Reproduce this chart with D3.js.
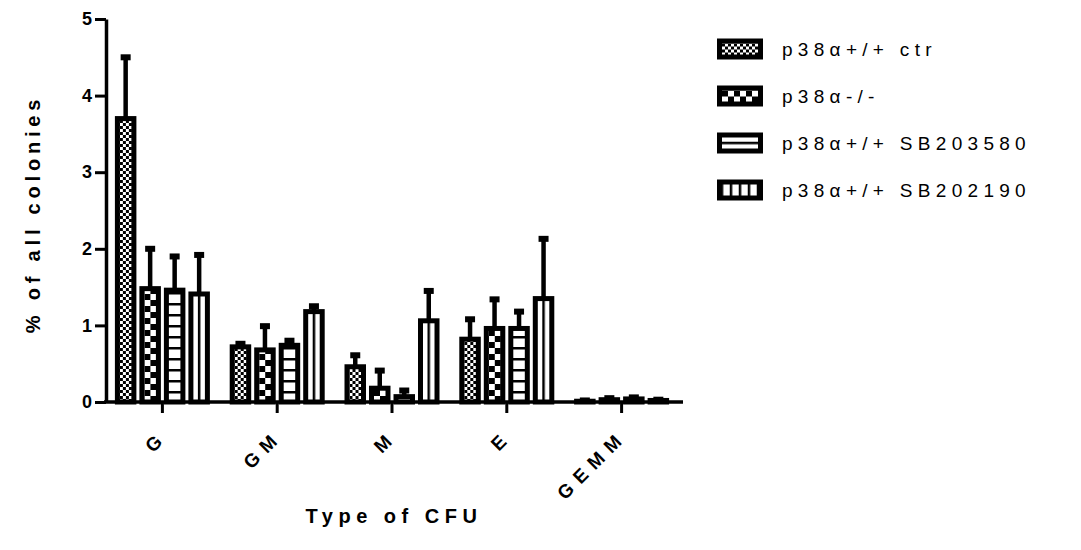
<!DOCTYPE html>
<html>
<head>
<meta charset="utf-8">
<script src="https://cdn.jsdelivr.net/npm/d3@7/dist/d3.min.js"></script>
<style>
  html, body { margin: 0; padding: 0; background: #fff; }
  svg { display: block; font-family: "Liberation Sans", Arial, sans-serif; }
</style>
</head>
<body>
<svg id="chart" width="1081" height="550"></svg>
<script>
// Colony-forming unit types
const categories = ["G", "GM", "M", "E", "GEMM"];
// Treatment groups
const seriesNames = ["p38α+/+ ctr", "p38α-/-", "p38α+/+ SB203580", "p38α+/+ SB202190"];
// Mean % of all colonies and upper error (SEM) per CFU type
const ctrMean   = [3.70, 0.72, 0.46, 0.82, 0.01];
const ctrErr    = [0.80, 0.04, 0.15, 0.26, 0.01];
const koMean    = [1.48, 0.68, 0.18, 0.96, 0.03];
const koErr     = [0.52, 0.31, 0.23, 0.38, 0.02];
const sb580Mean = [1.46, 0.74, 0.07, 0.96, 0.04];
const sb580Err  = [0.44, 0.06, 0.08, 0.22, 0.02];
const sb190Mean = [1.41, 1.18, 1.06, 1.35, 0.02];
const sb190Err  = [0.51, 0.07, 0.39, 0.78, 0.01];
const yTicks = [0, 1, 2, 3, 4, 5];

const means = [ctrMean, koMean, sb580Mean, sb190Mean];
const errs = [ctrErr, koErr, sb580Err, sb190Err];

const FONT = "Liberation Sans, Arial, sans-serif";
const svg = d3.select("#chart");
const defs = svg.append("defs");

const BAR_STROKE = 5;

// Scales
const y = d3.scaleLinear().domain([0, 5]).range([402, 19]);
const x0 = d3.scaleBand().domain(categories).range([105, 679]).padding(0);
const x1 = d3.scaleBand().domain(d3.range(seriesNames.length)).range([-47.5, 47.5])
  .paddingInner(3 / 24.5).paddingOuter(0);

// Fill patterns: fine checker, coarse checker, horizontal lines, vertical lines
function addPattern(id, kind, ox, oy) {
  const specs = [
    { w: 6, h: 6, marks: [[0, 0, 3, 3], [3, 3, 3, 3]] },
    { w: 12, h: 12, marks: [[0, 0, 6, 6], [6, 6, 6, 6]] },
    { w: 10, h: 11, marks: [[0, 0, 10, 2.5]] },
    { w: 9, h: 10, marks: [[0, 0, 2.5, 10]] }
  ];
  const s = specs[kind];
  const p = defs.append("pattern")
    .attr("id", id)
    .attr("patternUnits", "userSpaceOnUse")
    .attr("x", ox).attr("y", oy)
    .attr("width", s.w).attr("height", s.h);
  p.append("rect").attr("width", s.w).attr("height", s.h).attr("fill", "#fff");
  p.selectAll("rect.m").data(s.marks).join("rect").attr("class", "m")
    .attr("x", d => d[0]).attr("y", d => d[1])
    .attr("width", d => d[2]).attr("height", d => d[3])
    .attr("fill", "#000");
}
const barOffsets = [[5, 0], [5, 0], [0, 0], [9.5, 0]];
const legOffsets = [[5, 5], [5, 5], [0, 9.25], [3.75, 0]];
seriesNames.forEach((_, i) => {
  addPattern("pat-bar-" + i, i, barOffsets[i][0], barOffsets[i][1]);
  addPattern("pat-leg-" + i, i, legOffsets[i][0], legOffsets[i][1]);
});

// One record per bar
const bars = [];
categories.forEach((c, ci) => {
  seriesNames.forEach((s, si) => {
    bars.push({ cat: c, s: si, v: means[si][ci], e: errs[si][ci] });
  });
});

const bw = x1.bandwidth();

// Bars
const barG = svg.append("g").selectAll("g").data(bars).join("g")
  .attr("transform", d => `translate(${x0(d.cat) + x0.bandwidth() / 2 + x1(d.s)},${y(0)})`);
barG.append("rect")
  .attr("x", BAR_STROKE / 2)
  .attr("y", d => y(d.v) - y(0))
  .attr("width", bw - BAR_STROKE)
  .attr("height", d => y(0) - y(d.v))
  .attr("fill", d => `url(#pat-bar-${d.s})`)
  .attr("stroke", "#000")
  .attr("stroke-width", BAR_STROKE);

// Error bars (upper only)
barG.append("line")
  .attr("x1", bw / 2).attr("x2", bw / 2)
  .attr("y1", d => y(d.v) - y(0))
  .attr("y2", d => y(d.v + d.e) - y(0))
  .attr("stroke", "#000").attr("stroke-width", 4.5);
barG.append("rect")
  .attr("x", bw / 2 - 5)
  .attr("y", d => y(d.v + d.e) - y(0) - 3)
  .attr("width", 10).attr("height", 6)
  .attr("fill", "#000");

// Y axis
const yAxis = svg.append("g")
  .attr("transform", `translate(${x0.range()[0] + 1},0)`)
  .call(d3.axisLeft(y).tickValues(yTicks).tickFormat(d3.format("d"))
    .tickSize(11).tickSizeOuter(0).tickPadding(3));
yAxis.select(".domain").attr("stroke-width", 3.5);
yAxis.selectAll(".tick line").attr("stroke-width", 3);
yAxis.selectAll(".tick text")
  .attr("font-size", 18).attr("font-weight", "bold")
  .attr("font-family", FONT).attr("fill", "#000");

// X axis
const xAxis = svg.append("g")
  .attr("transform", `translate(0,${y(0)})`)
  .call(d3.axisBottom(x0).tickSize(11).tickSizeOuter(0).tickFormat(""));
xAxis.select(".domain").remove();
xAxis.selectAll(".tick line").attr("stroke-width", 3);
xAxis.append("line")
  .attr("x1", x0.range()[0] - 1).attr("x2", 683)
  .attr("stroke", "#000").attr("stroke-width", 3.5);

const tickLs = 7.5;
svg.append("g").selectAll("text").data(categories).join("text")
  .attr("transform", d => `translate(${x0(d) + x0.bandwidth() / 2 + 1},443) rotate(-45)`)
  .attr("text-anchor", "end")
  .attr("dx", tickLs)
  .attr("font-size", 19).attr("font-weight", "bold")
  .attr("font-family", FONT)
  .attr("letter-spacing", tickLs)
  .text(d => d);

// Axis titles
svg.append("text")
  .attr("transform", "translate(40,214) rotate(-90)")
  .attr("text-anchor", "middle")
  .attr("font-size", 20).attr("font-weight", "bold")
  .attr("font-family", FONT)
  .attr("letter-spacing", 4.8)
  .text("% of all colonies");
svg.append("text")
  .attr("x", 394).attr("y", 523)
  .attr("text-anchor", "middle")
  .attr("font-size", 20).attr("font-weight", "bold")
  .attr("font-family", FONT)
  .attr("letter-spacing", 5.5)
  .text("Type of CFU");

// Legend
const legG = svg.append("g").selectAll("g").data(seriesNames).join("g")
  .attr("transform", (d, i) => `translate(717,${49 + i * 47 - 10.5})`);
legG.append("rect")
  .attr("x", BAR_STROKE / 2).attr("y", BAR_STROKE / 2)
  .attr("width", 46 - BAR_STROKE).attr("height", 21 - BAR_STROKE)
  .attr("fill", (d, i) => `url(#pat-leg-${i})`)
  .attr("stroke", "#000").attr("stroke-width", BAR_STROKE);
legG.append("text")
  .attr("x", 65).attr("y", 10.5).attr("dy", "0.36em")
  .attr("font-size", 19)
  .attr("font-family", FONT)
  .attr("letter-spacing", 5.3)
  .text(d => d);
</script>
</body>
</html>
